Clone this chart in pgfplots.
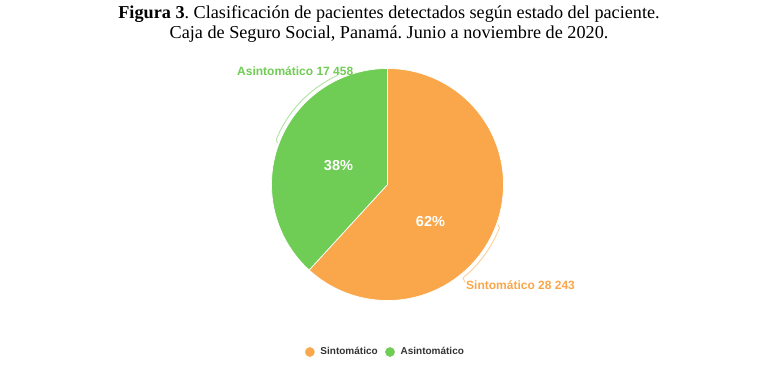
\documentclass[border=0pt]{standalone}
\usepackage{fontspec}
\setmainfont{Liberation Serif}
\newfontfamily\lab{Liberation Sans}
\usepackage{pgfplots}
\pgfplotsset{compat=1.18}
\definecolor{orC}{HTML}{F9A74A}
\definecolor{grC}{HTML}{6FCC55}
\definecolor{legT}{HTML}{333333}
\frenchspacing
\begin{document}
\begin{tikzpicture}
\def\vS{28243}
\def\vA{17458}
\edef\angS{\fpeval{360*\vS/(\vS+\vA)}}
\edef\eS{\fpeval{90-\angS}}
\edef\pS{\fpeval{round(100*\vS/(\vS+\vA))}}
\edef\pA{\fpeval{round(100*\vA/(\vS+\vA))}}
\begin{axis}[width=779pt,height=384pt,scale only axis,
  xmin=0,xmax=779,ymin=0,ymax=384,y dir=reverse,
  hide axis,clip=false,
  legend columns=-1,
  legend style={at={(axis cs:385.5,352)},anchor=center,draw=none,fill=none,
    font=\lab\bfseries\fontsize{10}{12}\selectfont,text=legT,
    /tikz/every odd column/.append style={column sep=0pt},
    /tikz/every even column/.append style={column sep=5.5pt},
    inner sep=0pt},
  legend image code/.code={\fill[#1] (4.6pt,0pt) circle (4.6pt); \path (13pt,0pt);},
]
\addplot[forget plot, fill=orC, draw=white, line width=0.7pt, domain=\eS:90, samples=150, variable=\t]
  ({387.5+116*cos(\t)},{184.5-116*sin(\t)}) -- (axis cs:387.5,184.5) -- cycle;
\addplot[forget plot, fill=grC, draw=white, line width=0.7pt, domain=90:{\eS+360}, samples=120, variable=\t]
  ({387.5+116*cos(\t)},{184.5-116*sin(\t)}) -- (axis cs:387.5,184.5) -- cycle;
% leader lines
\addplot[forget plot, draw=grC!55, line width=0.9pt, domain=115:158, samples=40, variable=\t]
  ({387.5+120*cos(\t)},{184.5-120*sin(\t)});
\addplot[forget plot, draw=grC!55, line width=0.9pt] coordinates {(336.8,75.7) (338,73.5)};
\addplot[forget plot, draw=grC!55, line width=0.9pt] coordinates {(276.2,139.5) (277.5,143)};
\addplot[forget plot, draw=orC!55, line width=0.9pt, domain=-51:-21, samples=40, variable=\t]
  ({387.5+120*cos(\t)},{184.5-120*sin(\t)});
\addplot[forget plot, draw=orC!55, line width=0.9pt] coordinates {(463.0,277.8) (465,282.5)};
\addplot[forget plot, draw=orC!55, line width=0.9pt] coordinates {(499.5,227.5) (497.5,224.5)};
% legend
\addlegendimage{orC}
\addlegendentry{Sintomático}
\addlegendimage{grC}
\addlegendentry{Asintomático}
% labels
\node[font=\lab\bfseries\fontsize{14.5}{16}\selectfont,text=white] at (axis cs:338.5,165.5) {\pA\%};
\node[font=\lab\bfseries\fontsize{14.5}{16}\selectfont,text=white] at (axis cs:430.5,221.5) {\pS\%};
\node[anchor=west,inner sep=0pt,text=grC,font=\lab\bfseries\fontsize{12}{13}\selectfont] at (axis cs:237,71.5) {Asintomático 17~458};
\node[anchor=west,inner sep=0pt,text=orC,font=\lab\bfseries\fontsize{12}{13}\selectfont] at (axis cs:466,285) {Sintomático 28~243};
% title
\node[font=\fontsize{18.2}{21}\selectfont,inner sep=0pt] at (axis cs:389,14) {\textbf{Figura 3}. Clasificación de pacientes detectados según estado del paciente.};
\node[font=\fontsize{18.2}{21}\selectfont,inner sep=0pt] at (axis cs:389,34.5) {Caja de Seguro Social, Panamá. Junio a noviembre de 2020.};
\end{axis}
\pgfresetboundingbox
\path[use as bounding box] (current axis.south west) rectangle (current axis.north east);
\end{tikzpicture}
\end{document}
